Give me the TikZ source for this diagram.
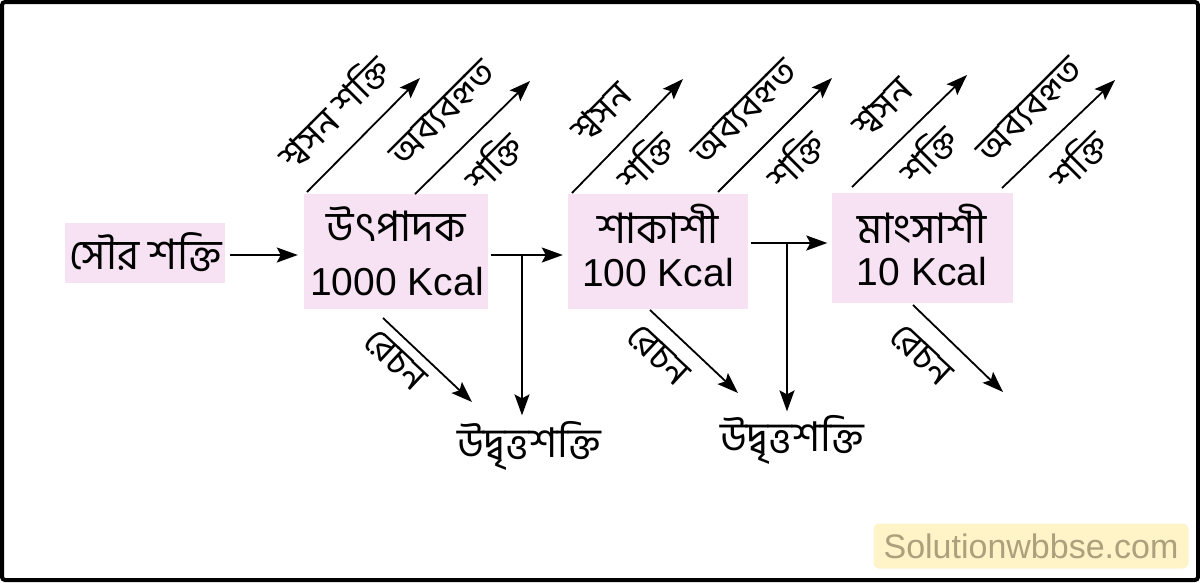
\documentclass[tikz,border=0pt]{standalone}
\usepackage{fontspec}
\setmainfont{Liberation Sans}
\newfontfamily\bn[Script=Bengali]{Hind Siliguri}
\usetikzlibrary{arrows.meta}
\definecolor{boxpink}{RGB}{247,226,243}
\definecolor{wmfill}{RGB}{255,243,200}
\definecolor{wmtext}{RGB}{172,160,125}
\begin{document}
\begin{tikzpicture}[x=1pt,y=-1pt,
  box/.style={fill=boxpink, inner sep=0pt},
  arr/.style={line width=1.8pt, -{Stealth[length=21pt,width=15pt,inset=4pt]}},
  bnbig/.style={font=\bn\fontsize{42}{46}\selectfont, inner sep=0pt},
  kcal/.style={font=\fontsize{39}{44}\selectfont, inner sep=0pt},
  lab/.style={font=\bn\fontsize{37}{40}\selectfont, inner sep=0pt},
  surp/.style={font=\bn\fontsize{41}{44}\selectfont, inner sep=0pt}]
\useasboundingbox (0,0) rectangle (1200,582);
\draw[line width=4pt, rounded corners=3pt] (2,2) rectangle (1198,580);

% boxes
\node[box, minimum width=160pt, minimum height=60pt] (sun) at (145,253) {};
\node[bnbig] (suntext) at (146,252) {সৌর শক্তি};
\node[box, minimum width=184pt, minimum height=115pt] (prod) at (396,251) {};
\node[bnbig] (prodname) at (396,224) {উৎপাদক};
\node[kcal] (prodkcal) at (397,282) {1000 Kcal};
\node[box, minimum width=180pt, minimum height=115pt] (herb) at (658,251) {};
\node[bnbig] (herbname) at (658,224) {শাকাশী};
\node[kcal] (herbkcal) at (658,273) {100 Kcal};
\node[box, minimum width=181pt, minimum height=110pt] (carn) at (922,248) {};
\node[bnbig] (carnname) at (922,224) {মাংসাশী};
\node[kcal] (carnkcal) at (922,272) {10 Kcal};

% surplus
\node[surp] (sur1) at (529,446) {উদ্বৃত্তশক্তি};
\node[surp] (sur2) at (792,440) {উদ্বৃত্তশক্তি};

% horizontal flow
\draw[arr, shorten <=5pt, shorten >=6pt] (sun.east |- 0,255) -- (prod.west |- 0,255);
\coordinate (b1) at (522,255);
\coordinate (b2) at (787,243);
\draw[arr, shorten <=3pt, shorten >=5pt] (prod.east |- b1) -- (herb.west |- b1);
\draw[arr, shorten <=3pt, shorten >=4pt] (herb.east |- b2) -- (carn.west |- b2);
\draw[arr, shorten >=6pt] (b1) -- (sur1.north -| b1);
\draw[arr, shorten >=4pt] (b2) -- (sur2.north -| b2);

% upward diagonal arrows
\coordinate (p1s) at (307,192); \coordinate (p1e) at (420,78);
\coordinate (p2s) at (415,194); \coordinate (p2e) at (530,81);
\coordinate (h1s) at (572,193); \coordinate (h1e) at (683,79);
\coordinate (h2s) at (718,192); \coordinate (h2e) at (832,78);
\coordinate (c1s) at (852,187); \coordinate (c1e) at (967,75);
\coordinate (c2s) at (1002,188); \coordinate (c2e) at (1115,80);
\foreach \a in {p1,p2,h1,h2,c1,c2} \draw[arr] (\a s) -- (\a e);

\node[lab, rotate=45] (lp1) at (333,112) {শ্বসন শক্তি};
\node[lab, rotate=45] (lp2) at (443,113) {অব্যবহৃত};
\node[lab, rotate=45] (lp3) at (493,162) {শক্তি};
\node[lab, rotate=45] (lh1) at (601,113) {শ্বসন};
\node[lab, rotate=45] (lh2) at (645,161) {শক্তি};
\node[lab, rotate=45] (lh3) at (745,112) {অব্যবহৃত};
\node[lab, rotate=45] (lh4) at (795,160) {শক্তি};
\node[lab, rotate=45] (lc1) at (882,108) {শ্বসন};
\node[lab, rotate=45] (lc2) at (928,155) {শক্তি};
\node[lab, rotate=45] (lc3) at (1030,110) {অব্যবহৃত};
\node[lab, rotate=45] (lc4) at (1078,160) {শক্তি};

% excretion arrows
\coordinate (e1s) at (383,318); \coordinate (e1e) at (472,402);
\coordinate (e2s) at (650,310); \coordinate (e2e) at (738,393);
\coordinate (e3s) at (913,305); \coordinate (e3e) at (1003,392);
\foreach \a in {e1,e2,e3} \draw[arr] (\a s) -- (\a e);
\node[lab, rotate=-43] (le1) at (395,360) {রেচন};
\node[lab, rotate=-43] (le2) at (658,355) {রেচন};
\node[lab, rotate=-43] (le3) at (921,355) {রেচন};

% watermark
\node[fill=wmfill, rounded corners=6pt, minimum width=315pt, minimum height=45pt, inner sep=0pt,
  text=wmtext, font=\fontsize{34}{38}\selectfont] (wm) at (1031,546) {Solutionwbbse.com};
\end{tikzpicture}
\end{document}
